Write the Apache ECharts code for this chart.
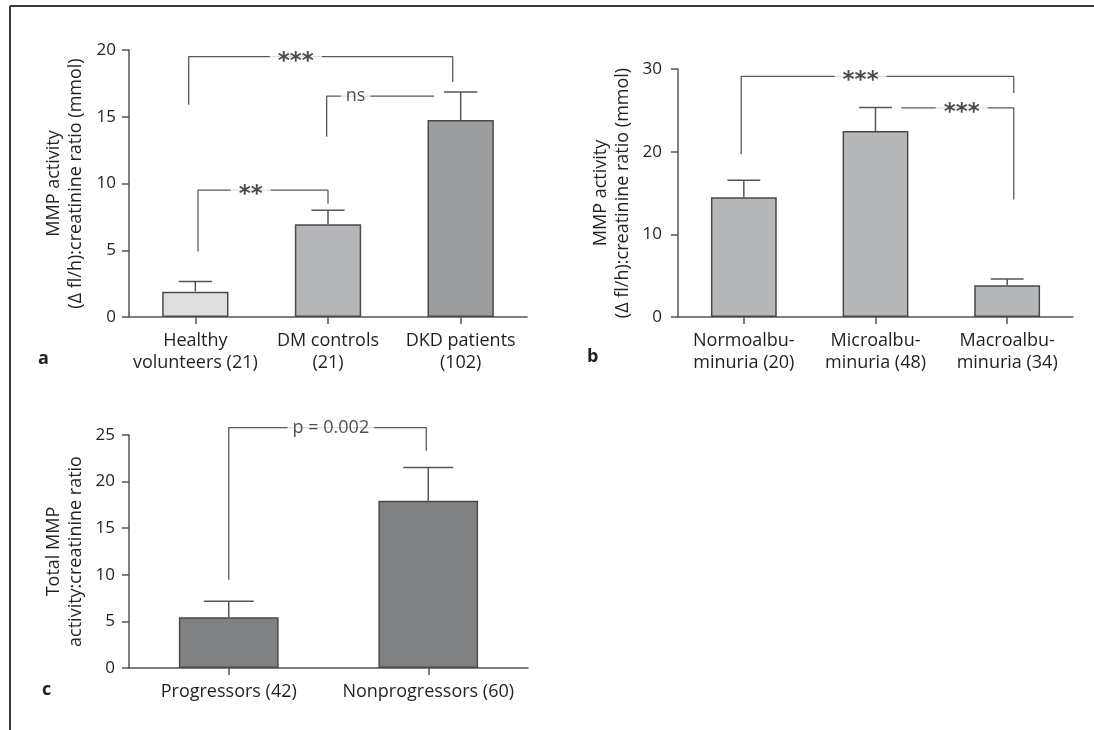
<!DOCTYPE html>
<html><head><meta charset="utf-8">
<script src="https://cdn.jsdelivr.net/npm/echarts@6/dist/echarts.min.js"></script>
<style>html,body{margin:0;padding:0;background:#fff}#c{width:1094px;height:730px}</style>
</head><body><div id="c"></div>
<script>
// ---- Panel a ----
const catsA = ['Healthy\nvolunteers (21)', 'DM controls\n(21)', 'DKD patients\n(102)'];
const meanA = [1.9, 6.95, 14.75];
const errA  = [0.75, 1.05, 2.1];
const ticksA = {min: 0, max: 20, interval: 5};
const bracketsA = [
  {pts: [[-0.05, 15.9], [-0.05, 19.5], [1.94, 19.5], [1.94, 17.6]], text: '***', tx: 0.757},
  {pts: [[0.99, 13.5], [0.99, 16.55], [1.80, 16.55]], text: 'ns', tx: 1.208},
  {pts: [[0.02, 4.9], [0.02, 9.5], [1.0, 9.5], [1.0, 8.5]], text: '**', tx: 0.417}
];
// ---- Panel b ----
const catsB = ['Normoalbu-\nminuria (20)', 'Microalbu-\nminuria (48)', 'Macroalbu-\nminuria (34)'];
const meanB = [14.5, 22.5, 3.85];
const errB  = [2.05, 2.85, 0.75];
const ticksB = {min: 0, max: 30, interval: 10};
const bracketsB = [
  {pts: [[-0.02, 19.7], [-0.02, 29.1], [2.05, 29.1], [2.05, 27.1]], text: '***', tx: 0.887},
  {pts: [[1.196, 25.3], [2.05, 25.3], [2.05, 14.2]], text: '***', tx: 1.655}
];
// ---- Panel c ----
const catsC = ['Progressors (42)', 'Nonprogressors (60)'];
const meanC = [5.45, 17.95];
const errC  = [1.7, 3.55];
const ticksC = {min: 0, max: 25, interval: 5};
const bracketsC = [
  {pts: [[0.0, 9.46], [0.0, 25.8], [0.99, 25.8], [0.99, 23.3]], text: 'p = 0.002', tx: 0.512}
];
const yNameA = 'MMP activity\n(\u0394 fl/h):creatinine ratio (mmol)';
const yNameB = 'MMP activity\n(\u0394 fl/h):creatinine ratio (mmol)';
const yNameC = 'Total MMP\nactivity:creatinine ratio';

// ---- styles ----
const colorsA = ['#dedfe0', '#b4b5b7', '#9c9d9f'];
const colorsB = ['#b6b7b9', '#b6b7b9', '#b6b7b9'];
const colorsC = ['#808183', '#808183'];
const FONT = 'Open Sans';
const TXT = '#231f20';
const AX = '#555557';

const chart = echarts.init(document.getElementById('c'));

function catAxis(gi, cats, margin) {
  return {type: 'category', gridIndex: gi, data: cats,
    axisLine: {show: true, onZero: false, lineStyle: {color: AX, width: 1.5}},
    axisTick: {show: true, alignWithLabel: true, length: 7, lineStyle: {color: AX, width: 1.5}},
    axisLabel: {fontFamily: FONT, fontSize: 18, lineHeight: 22, color: TXT, margin: margin, interval: 0},
    splitLine: {show: false}};
}
function hidAxis(gi, n) {
  return {type: 'value', gridIndex: gi, min: -0.5, max: n - 0.5, show: false,
    axisLine: {onZero: false}};
}
function valAxis(gi, t, name, gap, margin) {
  return {type: 'value', gridIndex: gi, min: t.min, max: t.max, interval: t.interval,
    name: name, nameLocation: 'middle', nameRotate: 90, nameGap: gap,
    nameTextStyle: {fontFamily: FONT, fontSize: 18, lineHeight: 22, color: TXT},
    axisLine: {show: true, onZero: false, lineStyle: {color: AX, width: 1.5}},
    axisTick: {show: true, length: 7, lineStyle: {color: AX, width: 1.5}},
    axisLabel: {fontFamily: FONT, fontSize: 17, color: TXT, margin: margin},
    splitLine: {show: false}};
}
function barSeries(xi, yi, means, colors) {
  return {type: 'bar', xAxisIndex: xi, yAxisIndex: yi, barWidth: '50%', silent: true, z: 2,
    data: means.map((v, i) => ({value: v, itemStyle: {color: colors[i]}})),
    itemStyle: {borderColor: '#4a4a4c', borderWidth: 1.5}};
}
function errSeries(xi, yi, means, errs) {
  return {type: 'custom', xAxisIndex: xi, yAxisIndex: yi, z: 3, silent: true,
    encode: {x: 0, y: 1},
    data: means.map((m, i) => [i, m, errs[i]]),
    renderItem: function (params, api) {
      const x = api.value(0), m = api.value(1), e = api.value(2);
      const p0 = api.coord([x, m]);
      const p1 = api.coord([x, m + e]);
      const hw = api.size([1, 0])[0] * 0.125;
      const st = {stroke: '#555557', lineWidth: 1.5};
      return {type: 'group', children: [
        {type: 'line', shape: {x1: p0[0], y1: p0[1], x2: p1[0], y2: p1[1]}, style: st},
        {type: 'line', shape: {x1: p1[0] - hw, y1: p1[1], x2: p1[0] + hw, y2: p1[1]}, style: st}
      ]};
    }};
}
function bracketSeries(xi, yi, brs) {
  const out = [];
  brs.forEach(b => {
    out.push({type: 'line', xAxisIndex: xi, yAxisIndex: yi, data: b.pts, symbol: 'none',
      clip: false, silent: true, z: 4, animation: false,
      lineStyle: {color: '#59595b', width: 1.3}});
    const ty = Math.max.apply(null, b.pts.map(p => p[1]));
    const star = b.text.indexOf('*') === 0;
    out.push({type: 'scatter', xAxisIndex: xi, yAxisIndex: yi, data: [[b.tx, ty, b.text]],
      symbolSize: 1, itemStyle: {color: 'rgba(0,0,0,0)'}, clip: false, silent: true, z: 5,
      label: {show: true, position: 'inside', formatter: p => p.data[2],
        fontFamily: star ? 'DejaVu Sans' : FONT, fontSize: star ? 23 : 18,
        fontWeight: star ? 'bold' : 'normal',
        color: TXT, backgroundColor: '#fff', padding: star ? [0, 8] : [0, 5],
        offset: star ? [0, 5] : [0, 0]}});
  });
  return out;
}

const option = {
  animation: false,
  backgroundColor: '#fff',
  grid: [
    {left: 129, top: 50, width: 398, height: 267},
    {left: 678, top: 69, width: 395, height: 248},
    {left: 129, top: 435, width: 399, height: 233}
  ],
  xAxis: [
    catAxis(0, catsA, 13), hidAxis(0, catsA.length),
    catAxis(1, catsB, 13), hidAxis(1, catsB.length),
    catAxis(2, catsC, 13), hidAxis(2, catsC.length)
  ],
  yAxis: [
    valAxis(0, ticksA, yNameA, 42, 13),
    valAxis(1, ticksB, yNameB, 44, 16),
    valAxis(2, ticksC, yNameC, 42, 14)
  ],
  series: [].concat(
    [barSeries(0, 0, meanA, colorsA), errSeries(0, 0, meanA, errA)],
    bracketSeries(1, 0, bracketsA),
    [barSeries(2, 1, meanB, colorsB), errSeries(2, 1, meanB, errB)],
    bracketSeries(3, 1, bracketsB),
    [barSeries(4, 2, meanC, colorsC), errSeries(4, 2, meanC, errC)],
    bracketSeries(5, 2, bracketsC)
  ),
  graphic: [
    {type: 'line', shape: {x1: 10, y1: 6, x2: 1094, y2: 6}, style: {stroke: '#3a3a3a', lineWidth: 2}},
    {type: 'line', shape: {x1: 10, y1: 6, x2: 10, y2: 730}, style: {stroke: '#3a3a3a', lineWidth: 2}},
    {type: 'text', left: 38, top: 350, style: {text: 'a', font: 'bold 18px "Open Sans"', fill: TXT}},
    {type: 'text', left: 587, top: 348, style: {text: 'b', font: 'bold 18px "Open Sans"', fill: TXT}},
    {type: 'text', left: 42, top: 681, style: {text: 'c', font: 'bold 18px "Open Sans"', fill: TXT}}
  ]
};
chart.setOption(option);
</script></body></html>
